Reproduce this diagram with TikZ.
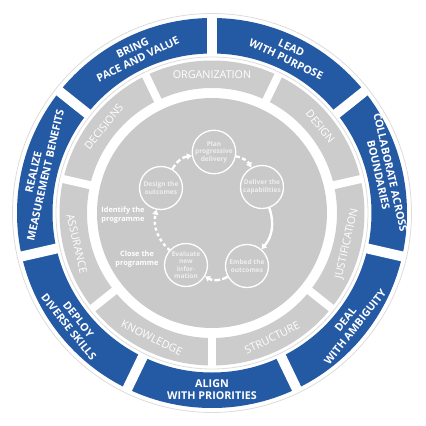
\documentclass[tikz,border=0pt]{standalone}
\usepackage{fontspec}
\setmainfont{Open Sans}
\usepackage{tikz}
\usetikzlibrary{arrows.meta}
\definecolor{ringblue}{RGB}{36,89,164}
\definecolor{ringgray}{RGB}{204,204,204}
\definecolor{diskgray}{RGB}{201,201,201}
\definecolor{linegray}{RGB}{220,220,220}
\definecolor{stagetext}{RGB}{238,238,238}
\tikzset{>={Triangle[length=5pt,width=6pt]}}
\tikzset{
  outer/.style={text=white, align=center, font=\bfseries\fontsize{10.8}{12.3}\selectfont},
  inner/.style={text=white, font=\fontsize{10.8}{12}\selectfont},
  stage/.style={circle, draw=white, line width=1.3pt, fill=diskgray, minimum size=43bp,
    inner sep=0pt, text=stagetext, align=center, font=\bfseries\fontsize{6.6}{7.6}\selectfont},
  note/.style={text=white, align=center, font=\bfseries\fontsize{7.4}{8.6}\selectfont},
  flow/.style={white, line width=2.4pt},
}

\begin{document}
\begin{tikzpicture}[x=1bp, y=1bp]
    \useasboundingbox (-212,-213) rectangle (214,213);

    % rings
    \draw[linegray, line width=0.8pt] (0,0) circle (199.5);
    \fill[ringblue, even odd rule] (0,0) circle (195) (0,0) circle (159.5);
    \draw[linegray, line width=0.8pt] (0,0) circle (156);
    \fill[ringgray, even odd rule] (0,0) circle (152.5) (0,0) circle (125);
    \fill[diskgray] (0,0) circle (115);

    % gaps in the blue ring
    \draw[white, line width=10bp] (90:157.5) -- (90:197);
    \draw[white, line width=10bp] (38.57:157.5) -- (38.57:197);
    \draw[white, line width=10bp] (-12.86:157.5) -- (-12.86:197);
    \draw[white, line width=10bp] (-64.29:157.5) -- (-64.29:197);
    \draw[white, line width=10bp] (-115.71:157.5) -- (-115.71:197);
    \draw[white, line width=10bp] (-167.14:157.5) -- (-167.14:197);
    \draw[white, line width=10bp] (141.43:157.5) -- (141.43:197);

    % gaps in the gray ring
    \draw[white, line width=8bp] (115.71:123) -- (115.71:154.5);
    \draw[white, line width=8bp] (64.29:123) -- (64.29:154.5);
    \draw[white, line width=8bp] (12.86:123) -- (12.86:154.5);
    \draw[white, line width=8bp] (-38.57:123) -- (-38.57:154.5);
    \draw[white, line width=8bp] (-90:123) -- (-90:154.5);
    \draw[white, line width=8bp] (-141.43:123) -- (-141.43:154.5);
    \draw[white, line width=8bp] (167.14:123) -- (167.14:154.5);

    \node[outer, rotate=-25.71] at (64.29:177) (lead) {LEAD\\WITH PURPOSE};
    \node[outer, rotate=-77.14] at (12.86:177) (collab) {COLLABORATE ACROSS\\BOUNDARIES};
    \node[outer, rotate=51.43] at (-38.57:177) (deal) {DEAL\\WITH AMBIGUITY};
    \node[outer] at (-90:177) (align) {ALIGN\\WITH PRIORITIES};
    \node[outer, rotate=-51.43] at (-141.43:177) (deploy) {DEPLOY\\DIVERSE SKILLS};
    \node[outer, rotate=77.14] at (167.14:177) (realize) {REALIZE\\MEASUREMENT BENEFITS};
    \node[outer, rotate=25.71] at (115.71:177) (bring) {BRING\\PACE AND VALUE};

    \node[inner] at (90:138.5) (org) {ORGANIZATION};
    \node[inner, rotate=-51.43] at (38.57:138.5) (design) {DESIGN};
    \node[inner, rotate=77.14] at (-12.86:138.5) (justif) {JUSTIFICATION};
    \node[inner, rotate=25.71] at (-64.29:138.5) (struct) {STRUCTURE};
    \node[inner, rotate=-25.71] at (-115.71:138.5) (know) {KNOWLEDGE};
    \node[inner, rotate=-77.14] at (-167.14:138.5) (assur) {ASSURANCE};
    \node[inner, rotate=51.43] at (141.43:138.5) (decis) {DECISIONS};

    % the cycle
    \node[stage] at (2,61) (P) {Plan\\progressive\\delivery};
    \node[stage] at (50,26) (D) {Deliver the\\capabilities};
    \node[stage] at (35,-53) (E) {Embed the\\outcomes};
    \node[stage] at (-26,-52) (V) {Evaluate\\new\\infor-\\mation};
    \node[stage] at (-51,25) (O) {Design the\\outcomes};

    \path[->, flow, dash pattern=on 4pt off 2.5pt] (P) edge[bend left=25] (D);
    \path[->, flow] (D) edge[bend left=30] (E);
    \path[->, flow, dash pattern=on 6pt off 2pt] (E) edge[bend left=30] (V);
    \path[->, flow, dash pattern=on 3pt off 3pt] (V) edge[bend left=30] (O);
    \path[->, flow, dash pattern=on 5pt off 2.5pt] (O) edge[bend left=25] (P);
    %\path[->, flow] (O) edge[bend left] (P);

    \node[note] at (-89,-2) (identify) {Identify the\\programme};
    \node[note] at (-75,-46) (close) {Close the\\programme};
\end{tikzpicture}
\end{document}
